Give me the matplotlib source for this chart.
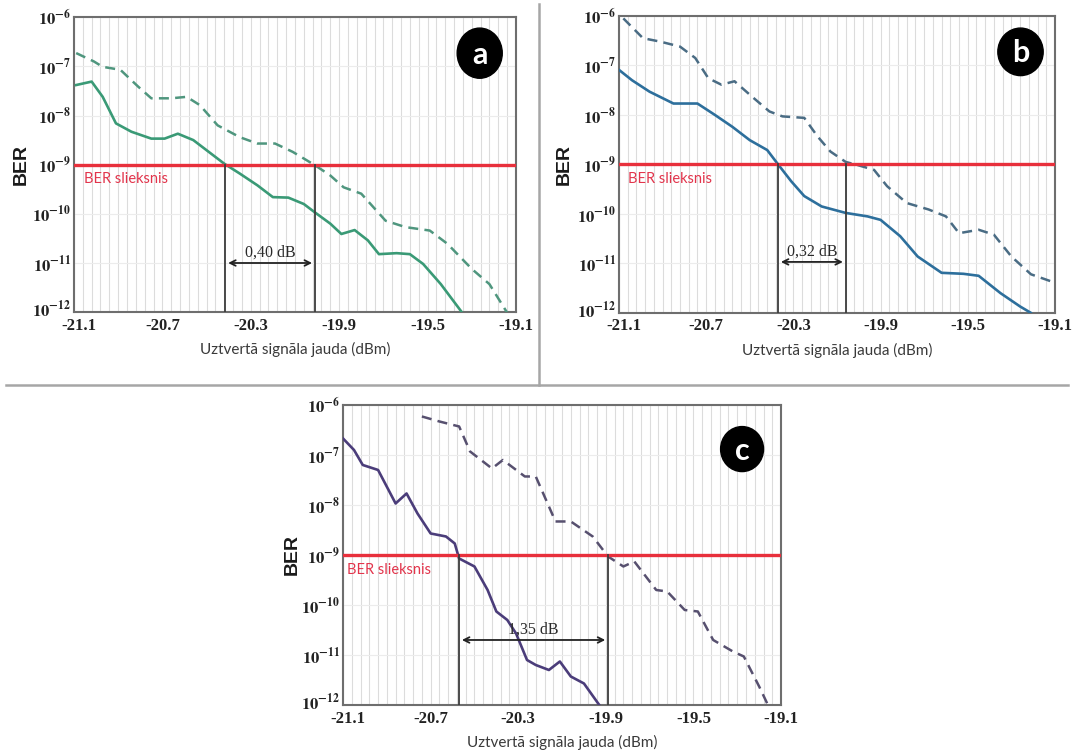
import numpy as np
import matplotlib
matplotlib.use("Agg")
import matplotlib.pyplot as plt
import matplotlib.transforms as mtransforms
from matplotlib.patches import Ellipse
from matplotlib.lines import Line2D

plt.rcParams['mathtext.fontset'] = 'stix'

# x ticks and y decades shared by all three panels
x_ticks = [-21.1, -20.7, -20.3, -19.9, -19.5, -19.1]
y_exps = [-6, -7, -8, -9, -10, -11, -12]
threshold = 1e-9

# panel a (log10 BER values)
a_solid_x = [-21.09, -21.02, -20.97, -20.91, -20.84, -20.75, -20.69, -20.63, -20.56, -20.49,
             -20.42, -20.35, -20.27, -20.20, -20.13, -20.06, -20.01, -19.94, -19.89, -19.83,
             -19.77, -19.72, -19.64, -19.58, -19.52, -19.44, -19.35, -19.30]
a_solid_log = [-7.38, -7.31, -7.62, -8.16, -8.33, -8.47, -8.47, -8.37, -8.50, -8.74,
               -8.98, -9.18, -9.42, -9.66, -9.67, -9.80, -9.97, -10.20, -10.41, -10.33,
               -10.54, -10.82, -10.80, -10.82, -11.02, -11.43, -11.97, -12.3]
a_dash_x = [-21.09, -21.01, -20.97, -20.89, -20.81, -20.75, -20.66, -20.59, -20.53, -20.45,
            -20.35, -20.27, -20.19, -20.11, -20.01, -19.94, -19.88, -19.80, -19.69, -19.60,
            -19.49, -19.41, -19.30, -19.22, -19.14]
a_dash_log = [-6.73, -6.90, -7.01, -7.07, -7.41, -7.65, -7.65, -7.62, -7.79, -8.20,
              -8.44, -8.57, -8.57, -8.74, -9.01, -9.22, -9.46, -9.59, -10.14, -10.27,
              -10.34, -10.61, -11.12, -11.43, -12.01]

# panel b
b_solid_x = [-21.10, -21.04, -20.96, -20.85, -20.74, -20.66, -20.58, -20.50, -20.42, -20.37,
             -20.31, -20.25, -20.17, -20.06, -19.96, -19.90, -19.81, -19.73, -19.62, -19.52,
             -19.45, -19.35, -19.26, -19.21, -19.18]
b_solid_log = [-7.09, -7.30, -7.53, -7.77, -7.77, -8.00, -8.24, -8.51, -8.71, -9.00,
               -9.34, -9.64, -9.85, -9.98, -10.05, -10.12, -10.45, -10.86, -11.19, -11.21,
               -11.25, -11.60, -11.87, -12.0, -12.2]
b_dash_x = [-21.08, -20.99, -20.91, -20.82, -20.75, -20.69, -20.63, -20.57, -20.49, -20.41,
            -20.35, -20.25, -20.19, -20.13, -20.06, -20.00, -19.93, -19.87, -19.78, -19.68,
            -19.60, -19.54, -19.45, -19.38, -19.30, -19.21, -19.10]
b_dash_log = [-6.05, -6.45, -6.52, -6.62, -6.85, -7.26, -7.39, -7.32, -7.63, -7.93,
              -8.03, -8.06, -8.43, -8.74, -8.95, -9.02, -9.11, -9.44, -9.78, -9.91,
              -10.05, -10.39, -10.32, -10.42, -10.86, -11.22, -11.39]

# panel c
c_solid_x = [-21.10, -21.05, -21.01, -20.94, -20.86, -20.81, -20.76, -20.70, -20.63, -20.59,
             -20.57, -20.50, -20.44, -20.40, -20.35, -20.31, -20.26, -20.22, -20.16, -20.11,
             -20.06, -20.00, -19.93, -19.90]
c_solid_log = [-6.67, -6.90, -7.20, -7.30, -7.97, -7.77, -8.17, -8.57, -8.63, -8.77,
               -9.07, -9.23, -9.70, -10.13, -10.30, -10.57, -11.10, -11.20, -11.30, -11.13,
               -11.43, -11.57, -12.0, -12.2]
c_dash_x = [-20.74, -20.66, -20.57, -20.52, -20.42, -20.37, -20.27, -20.22, -20.13, -20.06,
            -19.96, -19.89, -19.82, -19.77, -19.67, -19.62, -19.54, -19.48, -19.41, -19.32,
            -19.27, -19.20, -19.16]
c_dash_log = [-6.23, -6.33, -6.43, -6.93, -7.27, -7.10, -7.43, -7.43, -8.33, -8.33,
              -8.63, -9.03, -9.23, -9.13, -9.70, -9.73, -10.10, -10.13, -10.70, -10.93,
              -11.03, -11.63, -12.0]

panels = [
    dict(rect=[0.069, 0.586, 0.4123, 0.3912], letter='a', color='#3a9a76', dcolor='#4f967e',
         solid=(a_solid_x, a_solid_log), dash=(a_dash_x, a_dash_log),
         cross=(-20.415, -20.01), arrow_exp=-11.0, gap='0,40 dB',
         circ=(0.918, 0.878, 0.102, 0.17), txt_x=-21.055, ylab_x=-0.10),
    dict(rect=[0.5774, 0.585, 0.4067, 0.3939], letter='b', color='#2d6f9c', dcolor='#4a6c84',
         solid=(b_solid_x, b_solid_log), dash=(b_dash_x, b_dash_log),
         cross=(-20.37, -20.06), arrow_exp=-10.97, gap='0,32 dB',
         circ=(0.921, 0.879, 0.104, 0.16), txt_x=-21.06, ylab_x=-0.105),
    dict(rect=[0.32, 0.065, 0.4086, 0.3979], letter='c', color='#4b3d7a', dcolor='#57506f',
         solid=(c_solid_x, c_solid_log), dash=(c_dash_x, c_dash_log),
         cross=(-20.57, -19.89), arrow_exp=-10.7, gap='1,35 dB',
         circ=(0.911, 0.853, 0.098, 0.15), txt_x=-21.08, ylab_x=-0.096),
]

fig = plt.figure(figsize=(10.72, 7.54), dpi=100)

for p in panels:
    ax = fig.add_axes(p['rect'])
    ax.set_yscale('log')
    ax.set_xlim(-21.1, -19.1)
    ax.set_ylim(1e-12, 1e-6)

    # fine vertical grid + decade lines
    for gx in np.arange(-21.1, -19.1, 0.04):
        ax.axvline(gx, color='#dcdcdc', lw=0.8, zorder=0)
    for e in y_exps:
        ax.axhline(10.0 ** e, color='#ececec', lw=0.8, zorder=0)

    sx, sl = p['solid']
    dx, dl = p['dash']
    ax.plot(sx, 10.0 ** np.array(sl), color=p['color'], lw=1.9, zorder=3)
    ax.plot(dx, 10.0 ** np.array(dl), color=p['dcolor'], lw=1.8, ls=(0, (4, 2.5)), zorder=3)

    ax.axhline(threshold, color='#e8303c', lw=2.4, zorder=4)
    ax.text(p['txt_x'], 10 ** -9.3, 'BER slieksnis', color='#e2354c', fontsize=10.5,
            family='Lato', va='center', ha='left', zorder=5)

    x1, x2 = p['cross']
    for xv in (x1, x2):
        ax.plot([xv, xv], [threshold, 1e-12], color='#3c3c3c', lw=1.3, zorder=4)
    ya = 10.0 ** p['arrow_exp']
    ax.annotate('', xy=(x1, ya), xytext=(x2, ya),
                arrowprops=dict(arrowstyle='<->', color='#222222', lw=1.3), zorder=5)
    ax.annotate(p['gap'], xy=((x1 + x2) / 2, ya), xytext=(0, 2), textcoords='offset points',
                ha='center', va='bottom', fontsize=11.5, family='Liberation Serif',
                color='#2a2a2a', zorder=5)

    cx, cy, cw, ch = p['circ']
    ax.add_patch(Ellipse((cx, cy), cw, ch, transform=ax.transAxes, color='black', zorder=6))
    ax.text(cx, cy - 0.005, p['letter'], transform=ax.transAxes, color='white', fontsize=22,
            fontweight='bold', family='Lato', ha='center', va='center', zorder=7)

    ax.set_xticks(x_ticks)
    ax.set_xticklabels(['%.1f' % t for t in x_ticks], family='Liberation Serif',
                       fontweight='bold', fontsize=12)
    ax.set_yticks([10.0 ** e for e in y_exps])
    ax.set_yticklabels([r'$\mathbf{10^{%d}}$' % e for e in y_exps], fontsize=12)
    ax.minorticks_off()
    ax.tick_params(axis='x', length=0, pad=4, colors='#222222')
    ax.tick_params(axis='y', length=0, pad=2, colors='#222222')
    for s in ax.spines.values():
        s.set_color('#6e6e6e')
        s.set_linewidth(1.5)

    # nudge the corner labels apart like in the original
    xl0 = ax.get_xticklabels()[0]
    xl0.set_transform(xl0.get_transform() + mtransforms.ScaledTranslation(5 / 100, 0, fig.dpi_scale_trans))
    yl0 = ax.get_yticklabels()[-1]
    yl0.set_transform(yl0.get_transform() + mtransforms.ScaledTranslation(0, 4 / 100, fig.dpi_scale_trans))

    ax.set_xlabel('Uztvertā signāla jauda (dBm)', family='Lato', fontsize=11,
                  color='#3a3a3a', labelpad=6)
    ax.set_ylabel('BER', family='Liberation Sans', fontweight='bold', fontsize=14,
                  color='#1a1a1a')
    ax.yaxis.set_label_coords(p['ylab_x'], 0.5)

# separators between the panels
fig.add_artist(Line2D([0.5028, 0.5028], [0.4894, 0.995], color='#a6a6a6', lw=1.8))
fig.add_artist(Line2D([0.006, 0.996], [0.4894, 0.4894], color='#a6a6a6', lw=1.8))

fig.savefig('out.png', dpi=100)
